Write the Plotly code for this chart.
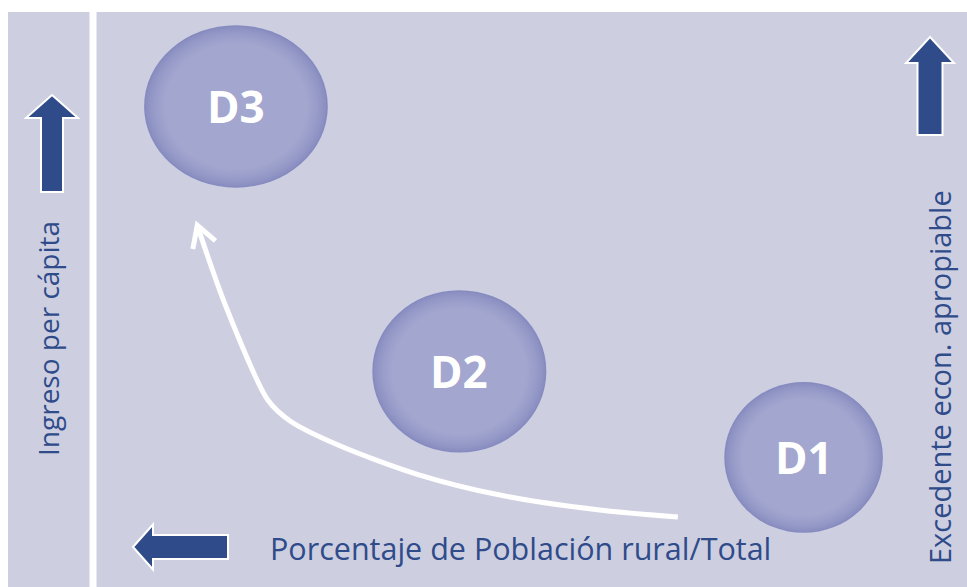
'''
    Diagram of development stages (D1, D2, D3): rural population share
    against per capita income, with the trend of the transition.
'''

import numpy as np
import plotly.graph_objects as go

W, H = 967, 587
PX = W / 100.0  # pixels per data unit (same on both axes)

# stages of development, in data units of the diagram
stages = ["D1", "D2", "D3"]
stage_rural = [83.1, 47.5, 24.4]      # x: share of rural population
stage_income = [13.4, 22.3, 49.7]     # y: per capita income
stage_rx = [8.2, 9.0, 9.5]
stage_ry = [7.8, 8.4, 8.4]

# trend of the transition (white curve), from D1 towards D3
trend_rural = [70.1, 62.0, 51.7, 43.4, 35.2, 30.0, 27.7, 23.3, 20.4]
trend_income = [7.24, 7.96, 9.51, 11.58, 14.58, 17.17, 19.34, 29.16, 37.4]

label_y_left = "Ingreso per cápita"
label_y_right = "Excedente econ. apropiable"
label_x = "Porcentaje de Población rural/Total"

BG = "#cdcfe1"
BLUE = "#2f4b8a"
FONT = "Open Sans"


def dx(p):
    return p / PX


def dy(p):
    return (H - p) / PX


def block_arrow(tip_x, tip_y, direction, length, shaft_w, head_w, head_len):
    '''
        Builds an svg path (data units) of a block arrow given in pixels.
    '''
    d = np.array(direction, dtype=float)
    d = d / np.linalg.norm(d)
    n = np.array([-d[1], d[0]])
    tip = np.array([tip_x, tip_y], dtype=float)
    base = tip - d * head_len
    tail = tip - d * length
    pts = [tip,
           base + n * head_w / 2, base + n * shaft_w / 2,
           tail + n * shaft_w / 2, tail - n * shaft_w / 2,
           base - n * shaft_w / 2, base - n * head_w / 2]
    path = "M " + " L ".join(f"{dx(p[0]):.3f},{dy(p[1]):.3f}" for p in pts) + " Z"
    return path


fig = go.Figure()

shapes = [
    # lavender panel and white separator
    dict(type="rect", xref="paper", yref="paper", x0=8 / W, x1=1,
         y0=0, y1=(H - 12) / H, fillcolor=BG, line_width=0, layer="below"),
    dict(type="rect", xref="paper", yref="paper", x0=89.5 / W, x1=96.5 / W,
         y0=0, y1=(H - 12) / H, fillcolor="white", line_width=0, layer="below"),
]

# bubbles: darker soft rim, nearly flat centre
rim = np.array([134, 139, 191])
inner = np.array([163, 166, 207])
for cx, cy, rx, ry in zip(stage_rural, stage_income, stage_rx, stage_ry):
    n_layers = 14
    for k in range(n_layers):
        t = k / (n_layers - 1)
        s = 1.0 - 0.22 * t
        c = rim + (inner - rim) * t ** 0.7
        shapes.append(dict(
            type="circle", xref="x", yref="y",
            x0=cx - rx * s, x1=cx + rx * s, y0=cy - ry * s, y1=cy + ry * s,
            fillcolor=f"rgb({c[0]:.0f},{c[1]:.0f},{c[2]:.0f})",
            line_width=0, layer="below"))

# dark blue block arrows with a thin white edge
arrows = [
    block_arrow(52, 95, (0, -1), 97, 22, 52, 23),
    block_arrow(930, 37, (0, -1), 98, 25, 48, 26),
    block_arrow(133, 547, (-1, 0), 95, 24, 45, 20),
]
for path in arrows:
    shapes.append(dict(type="path", xref="x", yref="y", path=path,
                       fillcolor=BLUE, line=dict(color="white", width=2)))

# trend curve
fig.add_trace(go.Scatter(
    x=trend_rural, y=trend_income, mode="lines",
    line=dict(color="white", width=5, shape="spline", smoothing=0.8),
    hoverinfo="skip"))

# open arrow head at the end of the trend, along the last segment
tip = np.array([trend_rural[-1], trend_income[-1]])
prev = np.array([trend_rural[-2], trend_income[-2]])
d = (tip - prev) / np.linalg.norm(tip - prev)
head = 24 / PX
wings = []
for ang in (np.radians(30), -np.radians(30)):
    rot = np.array([[np.cos(ang), -np.sin(ang)], [np.sin(ang), np.cos(ang)]])
    wings.append(tip - rot @ d * head)
fig.add_trace(go.Scatter(
    x=[wings[0][0], tip[0], wings[1][0]], y=[wings[0][1], tip[1], wings[1][1]],
    mode="lines", line=dict(color="white", width=5), hoverinfo="skip"))

annotations = []
for name, cx, cy in zip(stages, stage_rural, stage_income):
    annotations.append(dict(
        x=cx, y=cy, xref="x", yref="y", text=f"<b>{name}</b>", showarrow=False,
        font=dict(family=FONT, size=44, color="white")))

annotations += [
    dict(x=dx(48), y=dy(339), xref="x", yref="y", text=label_y_left,
         textangle=-90, showarrow=False,
         font=dict(family=FONT, size=28, color=BLUE)),
    dict(x=dx(939), y=dy(377), xref="x", yref="y", text=label_y_right,
         textangle=-90, showarrow=False,
         font=dict(family=FONT, size=29, color=BLUE)),
    dict(x=dx(268), y=dy(548), xref="x", yref="y", text=label_x,
         xanchor="left", showarrow=False,
         font=dict(family=FONT, size=30.5, color=BLUE)),
]

fig.update_layout(
    width=W, height=H,
    margin=dict(l=0, r=0, t=0, b=0),
    paper_bgcolor="white", plot_bgcolor="rgba(0,0,0,0)",
    showlegend=False,
    shapes=shapes,
    annotations=annotations,
    xaxis=dict(range=[0, 100], visible=False, fixedrange=True),
    yaxis=dict(range=[0, H / PX], visible=False, fixedrange=True),
)

fig.write_html("out.html", config={"displayModeBar": False},
               post_script="document.body.style.margin = '0';")
